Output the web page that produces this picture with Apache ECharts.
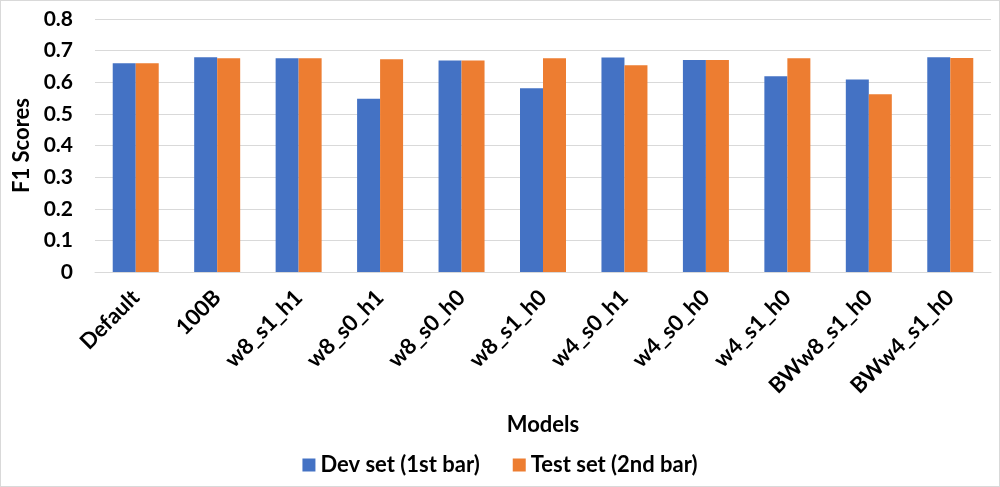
<!DOCTYPE html>
<html>
<head>
<meta charset="utf-8">
<script src="https://cdn.jsdelivr.net/npm/echarts@6/dist/echarts.min.js"></script>
<style>
    html, body { margin: 0; padding: 0; background: #fff; }
    #chart { width: 1000px; height: 487px; box-sizing: border-box; border: 1px solid #d9d9d9; }
</style>
</head>
<body>
<div id="chart"></div>
<script>
// model names along the x axis
const models = ['Default', '100B', 'w8_s1_h1', 'w8_s0_h1', 'w8_s0_h0', 'w8_s1_h0',
    'w4_s0_h1', 'w4_s0_h0', 'w4_s1_h0', 'BWw8_s1_h0', 'BWw4_s1_h0']
// F1 scores
const devScores = [0.660, 0.679, 0.676, 0.548, 0.669, 0.581, 0.678, 0.670, 0.619, 0.609, 0.679]
const testScores = [0.660, 0.676, 0.676, 0.673, 0.669, 0.676, 0.654, 0.670, 0.676, 0.562, 0.677]
const yTicks = [0, 0.1, 0.2, 0.3, 0.4, 0.5, 0.6, 0.7, 0.8]

const font = 'Lato, "Open Sans", sans-serif'

let option = {
    animation: false,
    textStyle: { fontFamily: font },
    grid: { left: 94, right: 8, top: 18, bottom: 214 },
    legend: {
        bottom: 5,
        left: 'center',
        itemWidth: 13,
        itemHeight: 13,
        itemGap: 33,
        icon: 'rect',
        textStyle: { fontSize: 22, fontWeight: 'bold', color: '#000', fontFamily: font },
        data: ['Dev set (1st bar)', 'Test set (2nd bar)']
    },
    xAxis: {
        type: 'category',
        data: models,
        name: 'Models',
        nameLocation: 'middle',
        nameGap: 142,
        nameTextStyle: { fontSize: 22, fontWeight: 'bold', color: '#000' },
        axisLine: { lineStyle: { color: '#d9d9d9' } },
        axisTick: { show: false },
        axisLabel: {
            rotate: 45,
            interval: 0,
            margin: 22,
            fontSize: 22,
            fontWeight: 'bold',
            color: '#000'
        }
    },
    yAxis: {
        type: 'value',
        min: 0,
        max: 0.8,
        interval: 0.1,
        name: 'F1 Scores',
        nameLocation: 'middle',
        nameGap: 55,
        nameTextStyle: { fontSize: 22, fontWeight: 'bold', color: '#000' },
        axisLine: { show: false },
        axisTick: { show: false },
        splitLine: { lineStyle: { color: '#d9d9d9' } },
        axisLabel: {
            margin: 22,
            fontSize: 21,
            fontWeight: 'bold',
            color: '#000',
            formatter: v => yTicks.includes(+v.toFixed(1)) ? (+v.toFixed(1)).toString() : ''
        }
    },
    series: [
        {
            name: 'Dev set (1st bar)',
            type: 'bar',
            data: devScores,
            barWidth: 23,
            barGap: '0%',
            itemStyle: { color: '#4472C4' }
        },
        {
            name: 'Test set (2nd bar)',
            type: 'bar',
            data: testScores,
            barWidth: 23,
            itemStyle: { color: '#ED7D31' }
        }
    ]
}

let chart = echarts.init(document.getElementById('chart'))
chart.setOption(option)
</script>
</body>
</html>
